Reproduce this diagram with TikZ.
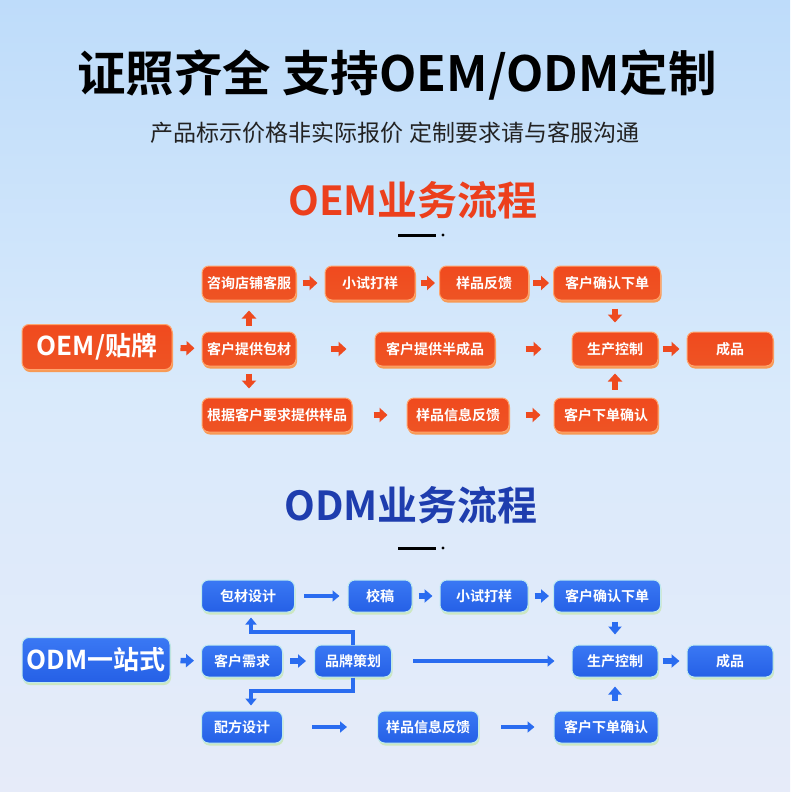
\documentclass[tikz,border=0pt]{standalone}
\usepackage{fontspec}
\newfontfamily\cjk{Noto Sans CJK SC}[BoldFont={Noto Sans CJK SC Bold}]
\usetikzlibrary{arrows.meta,calc}
\definecolor{BgTop}{HTML}{BEDCFA}
\definecolor{BgMid}{HTML}{D9EAFB}
\definecolor{BgBot}{HTML}{E6EBF9}
\definecolor{OTop}{HTML}{F04A1E}
\definecolor{OBot}{HTML}{EE5424}
\definecolor{ORim}{HTML}{FFA56E}
\definecolor{OSh}{HTML}{F79A55}
\definecolor{OArr}{HTML}{EE4A1F}
\definecolor{OTitle}{HTML}{EC3F1C}
\definecolor{BTop}{HTML}{3A78F4}
\definecolor{BBot}{HTML}{2560E6}
\definecolor{BRim}{HTML}{BFEAF0}
\definecolor{BSh}{HTML}{CDE7C0}
\definecolor{BArr}{HTML}{2A6CF0}
\definecolor{BTitle}{HTML}{1E3DAE}
\definecolor{SubText}{HTML}{222222}
\tikzset{
  boxbase/.style={rounded corners=7pt, line width=1pt, text=white, inner sep=0pt,
    font=\cjk\bfseries\fontsize{14}{14}\selectfont},
  obox/.style={boxbase, draw=ORim, top color=OTop, bottom color=OBot,
    minimum width=#1, minimum height=34pt,
    preaction={fill=OSh, transform canvas={xshift=1pt,yshift=-2.5pt}}},
  bbox/.style={boxbase, draw=BRim, top color=BTop, bottom color=BBot,
    minimum width=#1, minimum height=32pt,
    preaction={fill=BSh, transform canvas={xshift=1pt,yshift=-2.5pt}}},
  bigtext/.style={font=\cjk\bfseries\fontsize{26}{26}\selectfont, minimum height=45pt},
  oarr/.style={draw=OArr, line width=6pt, -{Triangle[length=8pt,width=14pt]}},
  barr/.style={draw=BArr, line width=5.5pt, -{Triangle[length=8pt,width=13pt]}},
  bline/.style={draw=BArr, line width=4pt, -{Triangle[length=7pt,width=11pt]}},
  sh/.style 2 args={shorten <=#1pt, shorten >=#2pt}
}
\begin{document}
\begin{tikzpicture}[x=1pt,y=-1pt]
\useasboundingbox (0,0) rectangle (790,792);
\shade[top color=BgTop, bottom color=BgBot, middle color=BgMid] (0,0) rectangle (790,792);

% titles
\node[font=\cjk\bfseries\fontsize{48.5}{48.5}\selectfont, text=black] (title) at (397,75) {证照齐全 支持OEM/ODM定制};
\node[font=\cjk\fontsize{23}{23}\selectfont, text=SubText] (sub) at (395,133) {产品标示价格非实际报价 定制要求请与客服沟通};
\node[font=\cjk\bfseries\fontsize{40}{40}\selectfont, text=OTitle] (oemt) at (413,200) {OEM业务流程};
\draw[line width=3pt, black] (398,235) -- (436,235);
\fill[black] (443,235) circle (1.6);
\node[font=\cjk\bfseries\fontsize{40}{40}\selectfont, text=BTitle] (odmt) at (411,505) {ODM业务流程};
\draw[line width=3pt, black] (398,548) -- (436,548);
\fill[black] (443,548) circle (1.6);

% OEM nodes
\node[obox=150pt, bigtext] (oem) at (97,347) {OEM/贴牌};
\node[obox=94pt] (pkg) at (249,349) {客户提供包材};
\node[obox=94pt] (consult) at (249,283) {咨询店铺客服};
\node[obox=150pt] (basis) at (277,415) {根据客户要求提供样品};
\node[obox=90pt] (trial) at (370,283) {小试打样};
\node[obox=89pt] (fb) at (484,283) {样品反馈};
\node[obox=107pt] (conf) at (607,283) {客户确认下单};
\node[obox=120pt] (semi) at (435,349) {客户提供半成品};
\node[obox=86pt] (prod) at (615,349) {生产控制};
\node[obox=86pt] (done) at (730,349) {成品};
\node[obox=102pt] (info) at (458,415) {样品信息反馈};
\node[obox=104pt] (order) at (606,415) {客户下单确认};

% OEM arrows
\draw[oarr, sh={8}{7}] (oem) -- (pkg);
\draw[oarr, sh={6}{10}] (pkg) -- (consult);
\draw[oarr, sh={7}{9}] (pkg.south) -- (pkg.south |- basis.north);
\draw[oarr, sh={6}{7}] (consult) -- (trial);
\draw[oarr, sh={5}{4}] (trial) -- (fb);
\draw[oarr, sh={4}{4}] (fb) -- (conf);
\draw[oarr, sh={8}{9}] (prod.north |- conf.south) -- (prod.north);
\draw[oarr, sh={34}{28}] (pkg) -- (semi);
\draw[oarr, sh={30}{30}] (semi) -- (prod);
\draw[oarr, sh={4}{7}] (prod) -- (done);
\draw[oarr, sh={21}{19}] (basis) -- (info);
\draw[oarr, sh={16}{13}] (info) -- (order);
\draw[oarr, sh={8}{7}] (prod.south |- order.north) -- (prod.south);

% ODM nodes
\node[bbox=148pt, bigtext] (odm) at (96,660) {ODM一站式};
\node[bbox=81pt] (need) at (242,661) {客户需求};
\node[bbox=77pt] (brand) at (353,661) {品牌策划};
\node[bbox=93pt] (design) at (248,596) {包材设计};
\node[bbox=81pt] (formula) at (242,727) {配方设计};
\node[bbox=64pt] (proof) at (380,596) {校稿};
\node[bbox=88pt] (trial2) at (484,596) {小试打样};
\node[bbox=107pt] (conf2) at (607,596) {客户确认下单};
\node[bbox=86pt] (prod2) at (615,661) {生产控制};
\node[bbox=86pt] (done2) at (730,661) {成品};
\node[bbox=101pt] (info2) at (428,727) {样品信息反馈};
\node[bbox=104pt] (order2) at (606,727) {客户下单确认};

% ODM arrows
\draw[barr, sh={10}{7}] (odm) -- (need);
\draw[barr, sh={7}{8}] (need) -- (brand);
\draw[bline, shorten >=5pt] (brand.north) -- ++(0,-13) -| ([xshift=3pt]design.south);
\draw[bline, shorten >=5pt] (brand.south) -- ++(0,13) -| ([xshift=9pt]formula.north);
\draw[bline, sh={9}{8}] (design) -- (proof);
\draw[barr, sh={6}{7}] (proof) -- (trial2);
\draw[barr, sh={6}{4}] (trial2) -- (conf2);
\draw[barr, sh={9}{10}] (prod2.north |- conf2.south) -- (prod2.north);
\draw[bline, sh={21}{17}] (brand) -- (prod2);
\draw[barr, sh={4}{7}] (prod2) -- (done2);
\draw[bline, sh={29}{30}] (formula) -- (info2);
\draw[bline, sh={22}{19}] (info2) -- (order2);
\draw[barr, sh={10}{9}] (prod2.south |- order2.north) -- (prod2.south);
\end{tikzpicture}
\end{document}
